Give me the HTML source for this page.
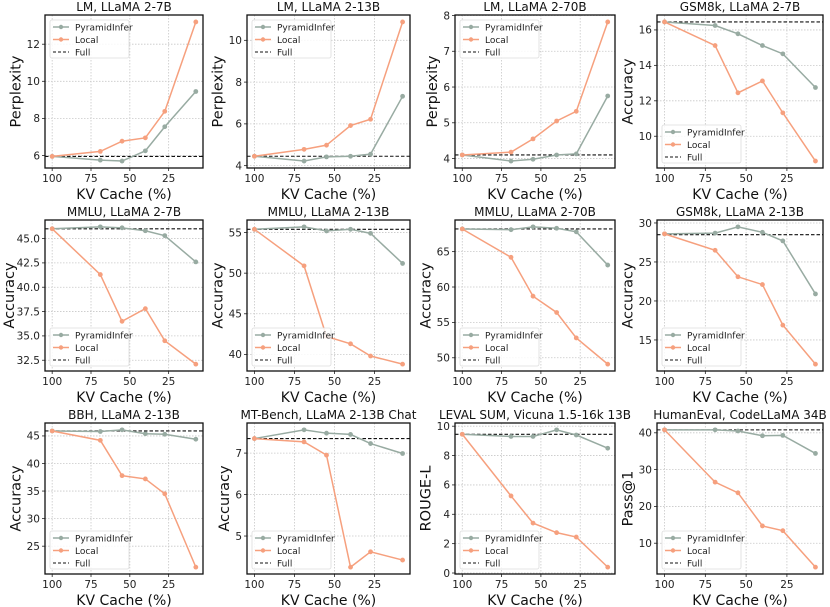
<!DOCTYPE html>
<html><head><meta charset="utf-8">
<style>
html,body{margin:0;padding:0;background:#fff;}
svg{display:block;font-family:"DejaVu Sans","Liberation Sans",sans-serif;}
</style></head>
<body>
<svg id="chart" width="830" height="607" viewBox="0 0 830 607" xmlns="http://www.w3.org/2000/svg"></svg>
<script>
const xValues = [100, 69, 55, 40, 27.5, 7.5];
const xTicks = [100, 75, 50, 25];
const panelTitles = ["LM, LLaMA 2-7B","LM, LLaMA 2-13B","LM, LLaMA 2-70B","GSM8k, LLaMA 2-7B",
 "MMLU, LLaMA 2-7B","MMLU, LLaMA 2-13B","MMLU, LLaMA 2-70B","GSM8k, LLaMA 2-13B",
 "BBH, LLaMA 2-13B","MT-Bench, LLaMA 2-13B Chat","LEVAL SUM, Vicuna 1.5-16k 13B","HumanEval, CodeLLaMA 34B"];
const yLabels = ["Perplexity","Perplexity","Perplexity","Accuracy","Accuracy","Accuracy","Accuracy","Accuracy","Accuracy","Accuracy","ROUGE-L","Pass@1"];
const pyramidSeries = [
 [5.95,5.75,5.7,6.25,7.55,9.45],
 [4.45,4.22,4.42,4.45,4.55,7.32],
 [4.1,3.93,3.98,4.1,4.13,5.75],
 [16.45,16.25,15.78,15.12,14.65,12.75],
 [46.0,46.2,46.1,45.8,45.3,42.6],
 [55.4,55.7,55.2,55.4,54.9,51.2],
 [68.2,68.1,68.5,68.3,67.8,63.1],
 [28.6,28.7,29.5,28.8,27.7,20.9],
 [45.9,45.8,46.1,45.4,45.3,44.4],
 [7.35,7.56,7.48,7.45,7.23,6.99],
 [9.45,9.3,9.3,9.75,9.4,8.5],
 [40.8,40.8,40.5,39.2,39.3,34.4]];
const localSeries = [
 [5.95,6.22,6.77,6.95,8.38,13.2],
 [4.45,4.78,4.98,5.92,6.22,10.88],
 [4.1,4.18,4.55,5.05,5.32,7.82],
 [16.45,15.12,12.45,13.12,11.32,8.6],
 [46.0,41.3,36.5,37.8,34.5,32.1],
 [55.4,50.9,42.2,41.3,39.8,38.8],
 [68.2,64.2,58.7,56.4,52.8,49.1],
 [28.6,26.5,23.1,22.1,16.9,11.9],
 [45.9,44.2,37.8,37.2,34.5,21.2],
 [7.35,7.27,6.95,4.25,4.62,4.42],
 [9.45,5.25,3.4,2.75,2.45,0.4],
 [40.8,26.6,23.7,14.7,13.4,3.5]];
const fullValues = [5.95,4.45,4.1,16.45,46.0,55.4,68.2,28.5,45.9,7.35,9.45,40.8];
const yTicks = [
 [6,8,10,12],[4,6,8,10],[4,5,6,7,8],[10,12,14,16],
 [32.5,35,37.5,40,42.5,45],[40,45,50,55],[50,55,60,65],[15,20,25,30],
 [25,30,35,40,45],[5,6,7],[0,2,4,6,8,10],[10,20,30,40]];
const tickDecimals = [0,0,0,0,1,0,0,0,0,0,0,0];
const legendTop = [true,true,true,false,false,false,false,false,false,false,false,false];

const colLeft=[45,247,455,657], colRight=[203,410,615,823];
const rowTop=[15,220,423], rowBot=[168,371,574];
const NS="http://www.w3.org/2000/svg";
const svg=document.getElementById('chart');
const PYR="#98aba2", LOC="#f6a07e";
function mk(tag,attrs,parent){const e=document.createElementNS(NS,tag);for(const k in attrs)e.setAttribute(k,attrs[k]);(parent||svg).appendChild(e);return e;}

for(let p=0;p<12;p++){
  const r=Math.floor(p/4), c=p%4;
  const L=colLeft[c],R=colRight[c],T=rowTop[r],B=rowBot[r];
  const g=mk('g',{});
  
  
  const all=pyramidSeries[p].concat(localSeries[p],[fullValues[p]]);
  let mn=Math.min(...all),mx=Math.max(...all),rg=mx-mn;mn-=rg*0.05;mx+=rg*0.05;
  const xmn=Math.min(...xValues),xmx=Math.max(...xValues),xr=xmx-xmn;
  const x0=xmx+xr*0.05,x1=xmn-xr*0.05;
  const sx=v=>L+(x0-v)/(x0-x1)*(R-L);
  const sy=v=>B-(v-mn)/(mx-mn)*(B-T);
  xTicks.forEach(t=>{const gl=mk('line',{x1:sx(t),x2:sx(t),y1:T,y2:B,stroke:'#c8c8c8','stroke-width':0.8,'stroke-dasharray':'1.5,1.5'},g);
    
    const tl=mk('text',{x:sx(t),y:B+14,'font-size':10.5,'text-anchor':'middle',fill:'#222'},g);tl.textContent=t;
    
    mk('line',{x1:sx(t),x2:sx(t),y1:B,y2:B+3,stroke:'#222','stroke-width':0.8},g);});
  let tickW=0;
  yTicks[p].forEach(t=>{const gl=mk('line',{x1:L,x2:R,y1:sy(t),y2:sy(t),stroke:'#c8c8c8','stroke-width':0.8,'stroke-dasharray':'1.5,1.5'},g);
    
    const s=t.toFixed(tickDecimals[p]);
    tickW=Math.max(tickW,s.length*6.2);
    const tl=mk('text',{x:L-5,y:sy(t)+3.8,'font-size':10.5,'text-anchor':'end',fill:'#222'},g);tl.textContent=s;
    
    mk('line',{x1:L-3,x2:L,y1:sy(t),y2:sy(t),stroke:'#222','stroke-width':0.8},g);});
  const fl=mk('line',{x1:L,x2:R,y1:sy(fullValues[p]),y2:sy(fullValues[p]),stroke:'#111','stroke-width':1.1,'stroke-dasharray':'3.5,2'},g);
  
  [[pyramidSeries[p],PYR,'pyramidinfer'],[localSeries[p],LOC,'local']].forEach(([s,col,nm])=>{
    const pl=mk('polyline',{points:s.map((v,i)=>sx(xValues[i])+','+sy(v)).join(' '),fill:'none',stroke:col,'stroke-width':1.5},g);
    
    s.forEach((v,i)=>{const pt=mk('circle',{cx:sx(xValues[i]),cy:sy(v),r:2.4,fill:col},g);
      });
  });
  const fr=mk('rect',{x:L,y:T,width:R-L,height:B-T,fill:'none',stroke:'#111','stroke-width':1.3},g);
  
  const ti=mk('text',{x:(L+R)/2,y:T-4,'font-size':12,'text-anchor':'middle',fill:'#111'},g);ti.textContent=panelTitles[p];
  
  const xl=mk('text',{x:(L+R)/2,y:B+31,'font-size':14,'text-anchor':'middle',fill:'#111'},g);xl.textContent='KV Cache (%)';
  
  const yx=Math.max(14,L-8-tickW-4),yy=(T+B)/2;
  const yl=mk('text',{x:yx,y:yy,'font-size':14.5,'text-anchor':'middle',fill:'#111',transform:'rotate(-90 '+yx+' '+yy+')'},g);yl.textContent=yLabels[p];
  
  const lx=L+5, ly=legendTop[p]?T+5:B-43;
  const lg=mk('g',{},g);
  
  mk('rect',{x:lx,y:ly,width:79,height:38,rx:2,fill:'#fff','fill-opacity':0.85,stroke:'#ddd','stroke-width':0.8},lg);
  [['PyramidInfer',PYR,false],['Local',LOC,false],['Full','#111',true]].forEach(([lab,col,dash],i)=>{
    const yy2=ly+7+i*12.5;
    mk('line',{x1:lx+3,x2:lx+19,y1:yy2,y2:yy2,stroke:col,'stroke-width':dash?1.1:1.5,'stroke-dasharray':dash?'3,2':'none'},lg);
    if(!dash)mk('circle',{cx:lx+11,cy:yy2,r:2.2,fill:col},lg);
    const t=mk('text',{x:lx+25,y:yy2+3.3,'font-size':9,fill:'#222'},lg);t.textContent=lab;
    
  });
}
</script>
</body></html>
